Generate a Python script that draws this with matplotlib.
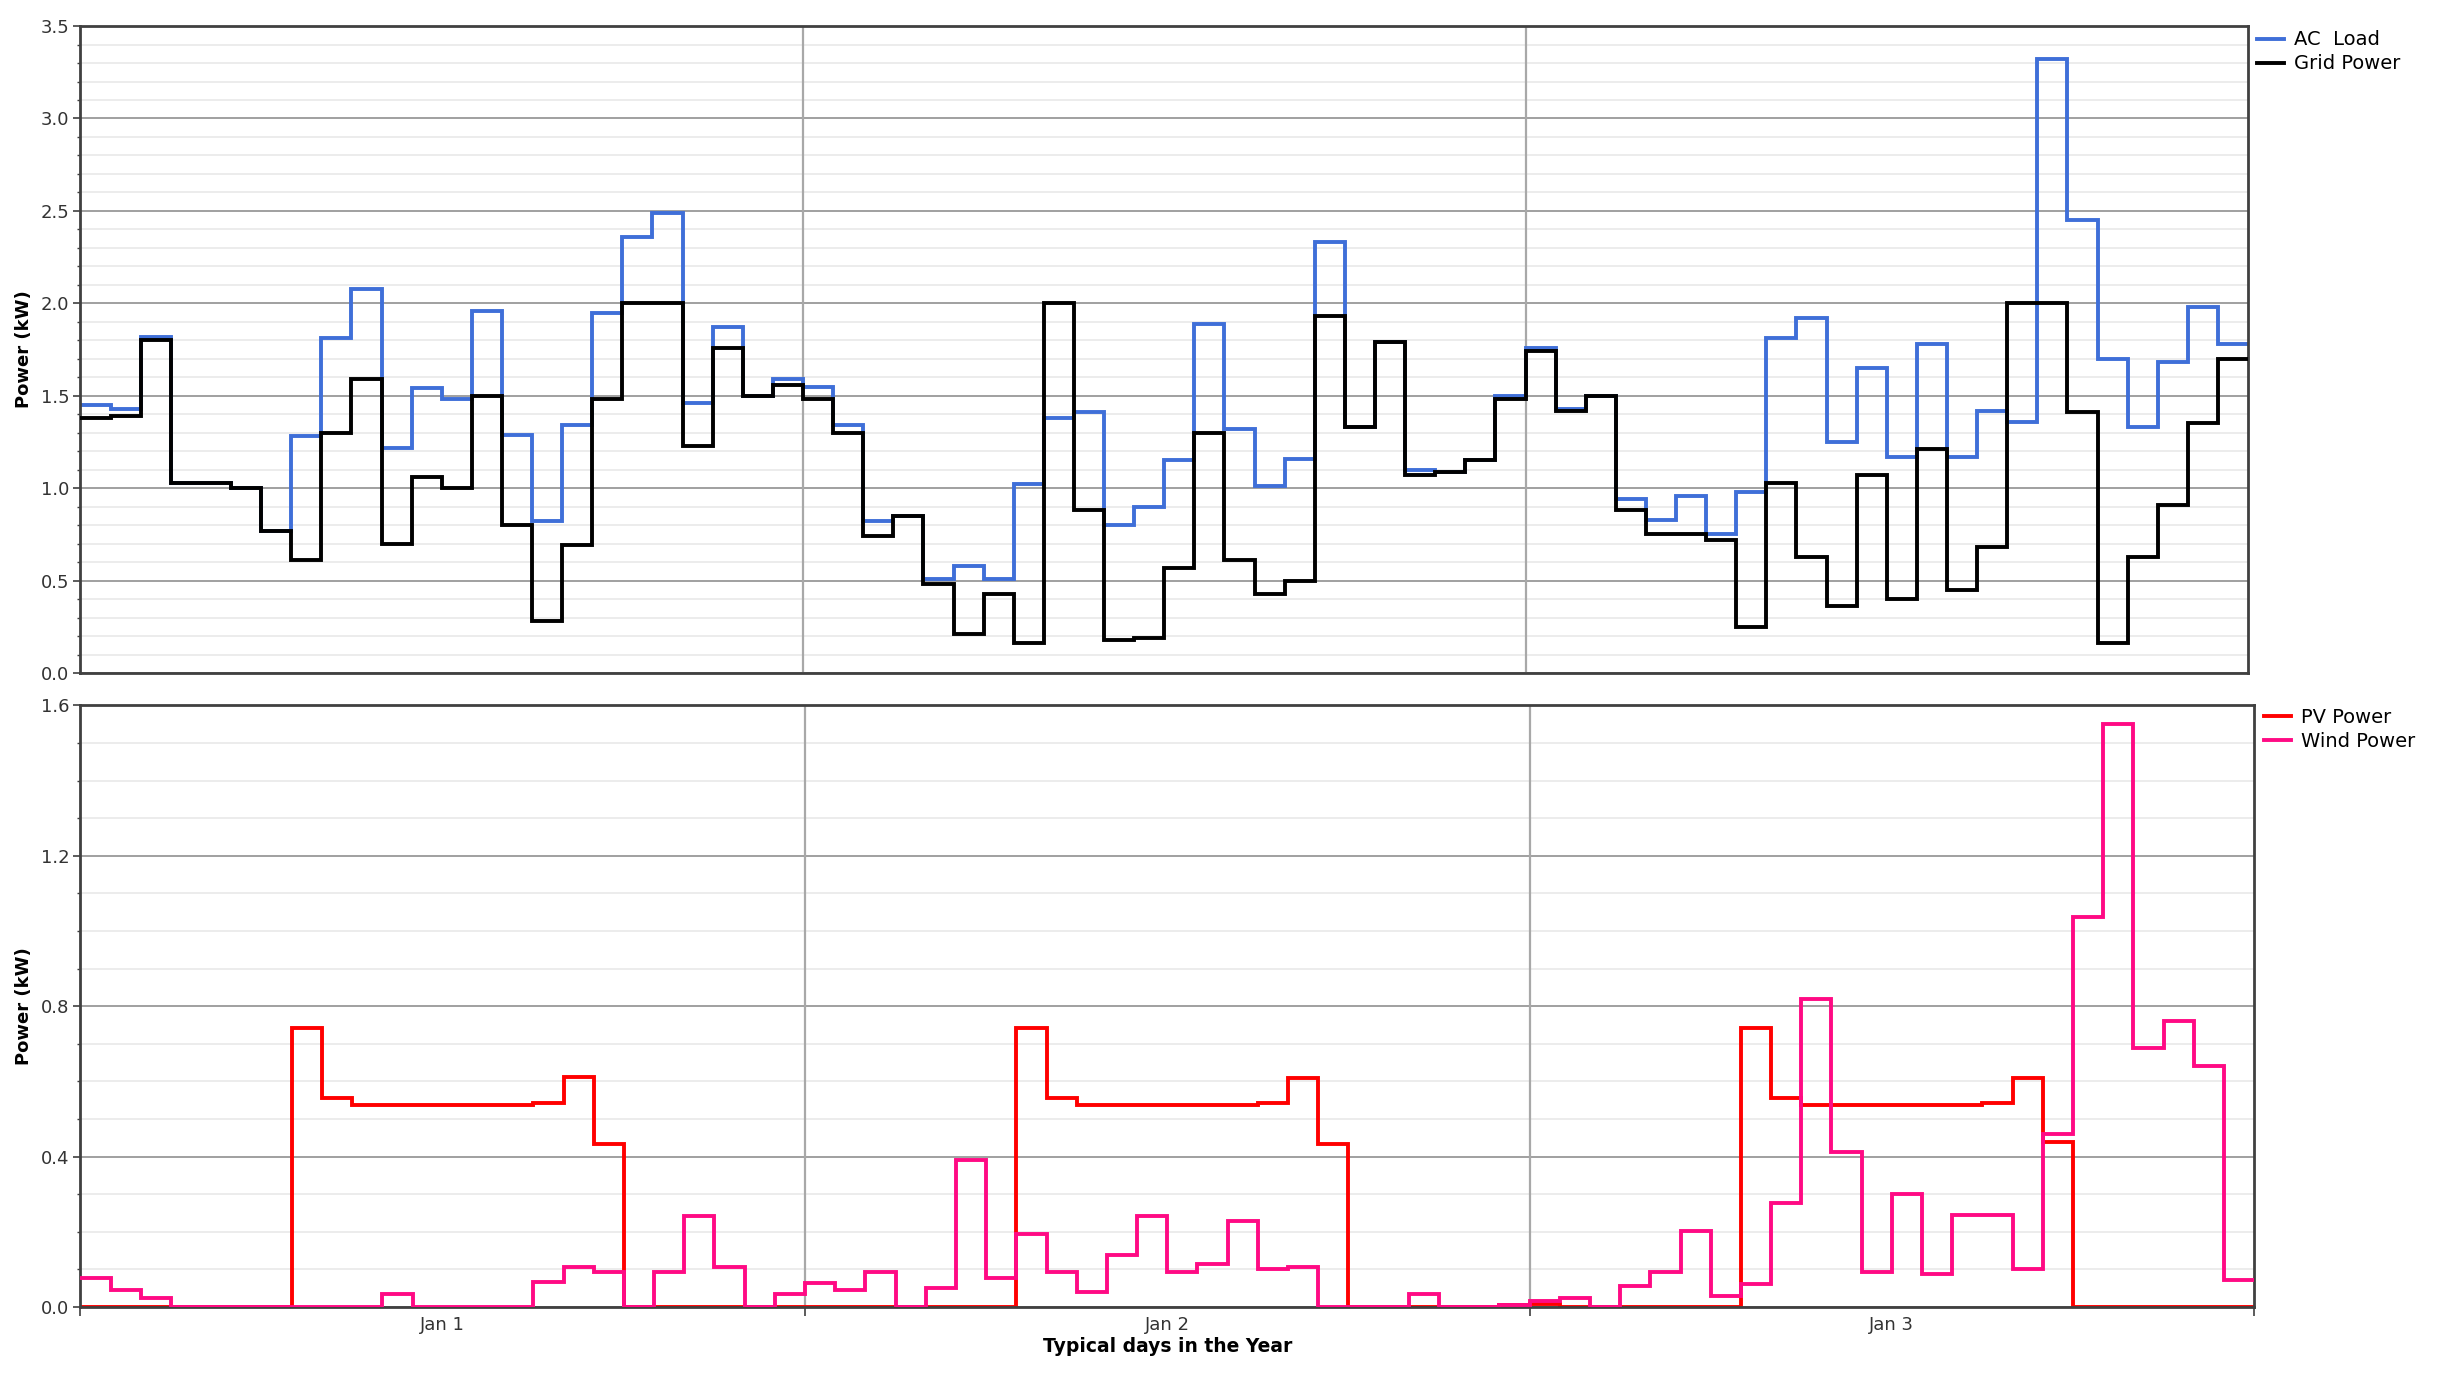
import numpy as np
import matplotlib.pyplot as plt
from matplotlib.ticker import MultipleLocator, FormatStrFormatter

# hourly values, 3 typical days (72 h)
ac_load = [1.45, 1.43, 1.82, 1.03, 1.03, 1.00, 0.77, 1.28, 1.81, 2.08, 1.22, 1.54,
           1.48, 1.96, 1.29, 0.82, 1.34, 1.95, 2.36, 2.49, 1.46, 1.87, 1.50, 1.59,
           1.55, 1.34, 0.82, 0.85, 0.51, 0.58, 0.51, 1.02, 1.38, 1.41, 0.80, 0.90,
           1.15, 1.89, 1.32, 1.01, 1.16, 2.33, 1.33, 1.79, 1.10, 1.09, 1.15, 1.50,
           1.76, 1.43, 1.50, 0.94, 0.83, 0.96, 0.75, 0.98, 1.81, 1.92, 1.25, 1.65,
           1.17, 1.78, 1.17, 1.42, 1.36, 3.32, 2.45, 1.70, 1.33, 1.68, 1.98, 1.78]
grid_power = [1.38, 1.39, 1.80, 1.03, 1.03, 1.00, 0.77, 0.61, 1.30, 1.59, 0.70, 1.06,
              1.00, 1.50, 0.80, 0.28, 0.69, 1.48, 2.00, 2.00, 1.23, 1.76, 1.50, 1.56,
              1.48, 1.30, 0.74, 0.85, 0.48, 0.21, 0.43, 0.16, 2.00, 0.88, 0.18, 0.19,
              0.57, 1.30, 0.61, 0.43, 0.50, 1.93, 1.33, 1.79, 1.07, 1.09, 1.15, 1.48,
              1.74, 1.42, 1.50, 0.88, 0.75, 0.75, 0.72, 0.25, 1.03, 0.63, 0.36, 1.07,
              0.40, 1.21, 0.45, 0.68, 2.00, 2.00, 1.41, 0.16, 0.63, 0.91, 1.35, 1.70]
pv_power = [0, 0, 0, 0, 0, 0, 0, 0.743, 0.555, 0.537, 0.537, 0.537,
            0.537, 0.537, 0.537, 0.543, 0.612, 0.434, 0, 0, 0, 0, 0, 0,
            0, 0, 0, 0, 0, 0, 0, 0.743, 0.555, 0.537, 0.537, 0.537,
            0.537, 0.537, 0.537, 0.543, 0.610, 0.434, 0, 0, 0, 0, 0, 0.005,
            0.008, 0, 0, 0, 0, 0, 0, 0.743, 0.555, 0.537, 0.537, 0.537,
            0.537, 0.537, 0.537, 0.543, 0.610, 0.439, 0, 0, 0, 0, 0, 0]
wind_power = [0.077, 0.045, 0.024, 0, 0, 0, 0, 0, 0, 0, 0.035, 0,
              0, 0, 0, 0.067, 0.106, 0.094, 0, 0.094, 0.242, 0.106, 0, 0.035,
              0.065, 0.045, 0.094, 0, 0.050, 0.392, 0.077, 0.195, 0.094, 0.039, 0.138, 0.242,
              0.094, 0.114, 0.230, 0.100, 0.106, 0, 0, 0, 0.035, 0, 0, 0.004,
              0.015, 0.024, 0, 0.057, 0.094, 0.203, 0.030, 0.061, 0.277, 0.820, 0.413, 0.094,
              0.300, 0.088, 0.244, 0.244, 0.100, 0.460, 1.038, 1.552, 0.690, 0.761, 0.640, 0.071]
day_labels = ['Jan 1', 'Jan 2', 'Jan 3']

edges = np.arange(len(ac_load) + 1)
day_edges = edges[::24]
day_mid = day_edges[:-1] + 12

fig = plt.figure(figsize=(24.39, 13.86), dpi=100)
ax1 = fig.add_axes([0.033, 0.5144, 0.8887, 0.4668])
ax2 = fig.add_axes([0.033, 0.0570, 0.8912, 0.434])


def style(ax, ymax, major):
    ax.set_xlim(0, 72)
    ax.set_ylim(0, ymax)
    ax.yaxis.set_major_locator(MultipleLocator(major))
    ax.yaxis.set_minor_locator(MultipleLocator(0.1))
    ax.yaxis.set_major_formatter(FormatStrFormatter('%.1f'))
    ax.grid(axis='y', which='major', color='#a0a0a0', lw=1.4)
    ax.grid(axis='y', which='minor', color='#ececec', lw=1.4)
    ax.set_xticks(day_edges)
    # day separators drawn above the horizontal grid
    for d in day_edges[1:-1]:
        ax.axvline(d, color='#a8a8a8', lw=1.6, zorder=0.9)
    ax.set_axisbelow(True)
    for s in ax.spines.values():
        s.set_color('#404040')
        s.set_linewidth(2)
    ax.tick_params(axis='y', which='major', labelsize=13, labelcolor='#333333',
                   length=5, width=1.2, color='#404040', pad=3)
    ax.tick_params(axis='y', which='minor', length=2.5, width=1, color='#404040')
    ax.set_ylabel('Power (kW)', fontsize=13, fontweight='bold')
    ax.yaxis.set_label_coords(-0.022, 0.5)


# ── top: load vs grid ──
style(ax1, 3.5, 0.5)
ax1.stairs(ac_load, edges, baseline=None, color='#3f6fd8', lw=2.8, label='AC  Load', zorder=2)
ax1.stairs(grid_power, edges, baseline=None, color='black', lw=2.8, label='Grid Power', zorder=3)
ax1.tick_params(axis='x', length=0, labelbottom=False)
ax1.legend(loc='upper left', bbox_to_anchor=(0.9254, 0.978), bbox_transform=fig.transFigure,
           frameon=False, fontsize=14, handlelength=1.4, handletextpad=0.5,
           labelspacing=0.25, borderaxespad=0, borderpad=0)

# ── bottom: PV & wind ──
style(ax2, 1.6, 0.4)
ax2.stairs(pv_power, edges, baseline=None, color='#ff0000', lw=2.8, label='PV Power', zorder=2)
ax2.stairs(wind_power, edges, baseline=None, color='#ff0a84', lw=2.8, label='Wind Power', zorder=3)
ax2.tick_params(axis='x', which='major', length=6.5, width=1.2, color='#404040', labelbottom=False)
ax2.set_xticks(day_mid, day_labels, minor=True)
ax2.tick_params(axis='x', which='minor', length=0, pad=6.5, labelsize=13, labelcolor='#333333')
ax2.set_xlabel('Typical days in the Year', fontsize=13.5, fontweight='bold', labelpad=2)
ax2.legend(loc='upper left', bbox_to_anchor=(0.9283, 0.4890), bbox_transform=fig.transFigure,
           frameon=False, fontsize=14, handlelength=1.4, handletextpad=0.5,
           labelspacing=0.25, borderaxespad=0, borderpad=0)

fig.savefig('out.png', dpi=100, facecolor='white')
